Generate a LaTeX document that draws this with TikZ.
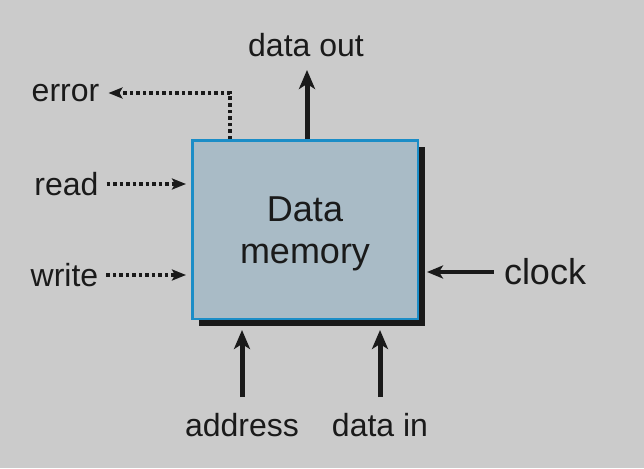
\documentclass[tikz,border=0pt]{standalone}
\usepackage{fontspec}
\setmainfont{Liberation Sans}
\usetikzlibrary{arrows.meta,shadows}
\definecolor{bg}{HTML}{CBCBCB}
\definecolor{boxfill}{HTML}{A9BBC6}
\definecolor{boxline}{HTML}{1B8DC7}
\definecolor{ink}{HTML}{1A1A1A}
\begin{document}
\begin{tikzpicture}[x=1pt,y=-1pt,
  lbl/.style={font=\fontsize{32}{38}\selectfont, inner sep=3pt, text=ink},
  biglbl/.style={font=\fontsize{36}{42}\selectfont, inner sep=3pt, text=ink, align=center},
  dotarrow/.style={draw=ink, line width=3.5pt, dash pattern=on 3.5pt off 3pt, -{Stealth[length=14pt,width=11pt,inset=3pt]}},
  solidarrow/.style={draw=ink, line width=5pt, -{Stealth[length=19pt,width=16pt,inset=5pt]}},
  thinarrow/.style={draw=ink, line width=4pt, -{Stealth[length=16pt,width=13pt,inset=4pt]}},
  membox/.style={draw=boxline, line width=2.5pt, fill=boxfill, minimum width=225.5pt, minimum height=178.5pt, inner sep=0pt,
    drop shadow={shadow xshift=7pt, shadow yshift=-7pt, fill=ink, opacity=1}}
]
\fill[bg] (0,0) rectangle (644,468);
\node[membox] (box) at (305,229.5) {};
\node[biglbl] (title) at (305,234) {Data\\memory};
\node[lbl] (dataout) at (306,45) {data out};
\node[lbl] (error) at (65.5,93) {error};
\node[lbl] (read) at (66.5,184) {read};
\node[lbl] (write) at (64.5,275) {write};
\node[biglbl] (clock) at (545,272) {clock};
\node[lbl] (address) at (242,425) {address};
\node[lbl] (datain) at (380,425) {data in};
\draw[dotarrow, shorten >=6pt] ([xshift=-75pt]box.north) |- (error.east);
\draw[dotarrow, shorten <=5pt, shorten >=5pt] (read.east) -- (read.east -| box.west);
\draw[dotarrow, shorten <=5pt, shorten >=5pt] (write.east) -- (write.east -| box.west);
\draw[solidarrow, shorten >=10pt] ([xshift=2pt]box.north) -- ([xshift=2pt]box.north |- dataout.south);
\draw[thinarrow, shorten <=7pt, shorten >=8pt] (clock.west) -- (clock.west -| box.east);
\draw[solidarrow, shorten <=13pt, shorten >=10pt] (address.north) -- (address.north |- box.south);
\draw[solidarrow, shorten <=13pt, shorten >=10pt] (datain.north) -- (datain.north |- box.south);
\end{tikzpicture}
\end{document}
